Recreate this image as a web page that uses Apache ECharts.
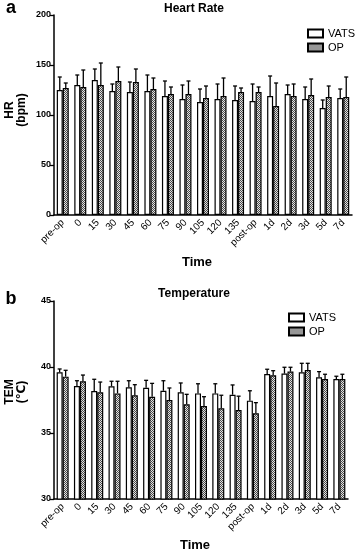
<!DOCTYPE html>
<html><head><meta charset="utf-8">
<script src="https://cdn.jsdelivr.net/npm/echarts@6/dist/echarts.min.js"></script>
<style>html,body{margin:0;padding:0;background:#fff}#c{width:359px;height:551px}</style>
</head><body><div id="c"></div>
<script>
const categories = ['pre-op','0','15','30','45','60','75','90','105','120','135','post-op','1d','2d','3d','5d','7d'];
const hrVATS = [125,130,135,124,123,124,119,116,113,116,115,114,119,121,116,107,117];
const hrVATSsd = [13,10,11,7,10,16,15,14,13,15,14,17,20,9,12,8,9];
const hrOP = [127,128,130,134,133,126,121,121,117,119,123,123,109,119,120,118,118];
const hrOPsd = [5,17,22,14,13,11,7,13,12,18,4,5,23,12,16,11,20];
const temVATS = [39.6,38.56,38.18,38.54,38.46,38.43,38.2,38.08,38.0,38.0,37.9,37.45,39.47,39.5,39.6,39.22,39.09];
const temVATSsd = [0.25,0.4,0.89,0.38,0.5,0.56,0.76,0.71,0.73,0.73,0.74,0.75,0.36,0.48,0.68,0.43,0.21];
const temOP = [39.27,38.92,38.08,38.0,37.86,37.75,37.5,37.17,37.05,36.87,36.74,36.5,39.37,39.65,39.77,39.09,39.09];
const temOPsd = [0.48,0.47,0.78,0.92,0.8,1.01,0.91,0.76,0.7,0.99,1.05,0.8,0.35,0.33,0.51,0.36,0.36];
const hrTicks = [0,50,100,150,200];
const temTicks = [30,35,40,45];

const FONT = '"Liberation Sans", Arial, "DejaVu Sans", sans-serif';
const cv = document.createElement('canvas'); cv.width = 2; cv.height = 2;
const cx = cv.getContext('2d');
cx.fillStyle = '#e4e4e4'; cx.fillRect(0,0,2,2);
cx.fillStyle = '#4a4a4a'; cx.fillRect(0,0,1,1); cx.fillRect(1,1,1,1);
const pattern = {image: cv, repeat: 'repeat'};

const BW = 6;
function errSeries(name, means, sds, idx, sign){
  return {
    type:'custom', name: name, xAxisIndex: idx, yAxisIndex: idx, z: 5, silent: true,
    data: means.map((m,i)=>[i, m, m + sds[i]]),
    renderItem: function(params, api){
      const p1 = api.coord([api.value(0), api.value(1)]);
      const p2 = api.coord([api.value(0), api.value(2)]);
      const x = p1[0] + sign*BW/2;
      return {type:'group', children:[
        {type:'line', shape:{x1:x,y1:p1[1],x2:x,y2:p2[1]}, style:{stroke:'#000',lineWidth:1.3}},
        {type:'line', shape:{x1:x-2,y1:p2[1],x2:x+2,y2:p2[1]}, style:{stroke:'#000',lineWidth:1.3}}
      ]};
    }
  };
}
function xAx(idx){
  return {type:'category', gridIndex: idx, data: categories,
    axisLine:{lineStyle:{color:'#000',width:1.5}},
    axisTick:{alignWithLabel:true,length:4,lineStyle:{color:'#000',width:1.3}},
    axisLabel:{rotate:45,color:'#000',fontSize:10,fontFamily:FONT,margin:6,interval:0}};
}
function yAx(idx,min,max,interval){
  return {type:'value', gridIndex: idx, min:min, max:max, interval:interval,
    axisLine:{show:true,lineStyle:{color:'#000',width:1.5}},
    axisTick:{show:true,length:4,lineStyle:{color:'#000',width:1.3}},
    splitLine:{show:false},
    axisLabel:{color:'#000',fontSize:9,fontWeight:'bold',fontFamily:FONT,margin:3}};
}
function bar(name, data, idx, color){
  return {type:'bar', name:name, xAxisIndex:idx, yAxisIndex:idx, data:data, barWidth:BW, barGap:'0%',
    itemStyle:{color:color, borderColor:'#000', borderWidth:1.2}};
}
function txt(x,y,t,size,weight,rot,lh){
  return {type:'text', x:x, y:y, rotation: rot||0,
    style:{text:t, fill:'#000', font: (weight||'normal')+' '+size+'px '+FONT, lineHeight: lh, textAlign:'center', textVerticalAlign:'middle'}};
}
const chart = echarts.init(document.getElementById('c'));
chart.setOption({
  animation:false,
  grid:[{left:54,right:7,top:15,height:200},{left:54,right:11,top:301,height:198}],
  xAxis:[xAx(0),xAx(1)],
  yAxis:[yAx(0,hrTicks[0],hrTicks[hrTicks.length-1],50), yAx(1,temTicks[0],temTicks[temTicks.length-1],5)],
  legend:[
    {orient:'vertical',left:302,top:23,itemWidth:15,itemHeight:8,itemGap:3,icon:'rect',data:['VATS','OP'],
     textStyle:{fontSize:11,color:'#000',fontFamily:FONT},selectedMode:false},
    {orient:'vertical',left:283,top:307,itemWidth:15,itemHeight:8,itemGap:3,icon:'rect',data:['VATS','OP'],
     textStyle:{fontSize:11,color:'#000',fontFamily:FONT},selectedMode:false}
  ],
  series:[
    bar('VATS',hrVATS,0,'#fff'), bar('OP',hrOP,0,pattern),
    errSeries('eb1',hrVATS,hrVATSsd,0,-1), errSeries('eb2',hrOP,hrOPsd,0,1),
    bar('VATS',temVATS,1,'#fff'), bar('OP',temOP,1,pattern),
    errSeries('eb3',temVATS,temVATSsd,1,-1), errSeries('eb4',temOP,temOPsd,1,1)
  ],
  graphic:[
    txt(11,8,'a',18,'bold'),
    txt(194,9,'Heart Rate',12,'bold'),
    txt(16,110,'HR\n(bpm)',12,'bold',Math.PI/2,12),
    txt(197,262,'Time',13,'bold'),
    txt(11,299,'b',18,'bold'),
    txt(194,294,'Temperature',12,'bold'),
    txt(16,392,'TEM\n(℃)',12,'bold',Math.PI/2,12),
    txt(195,545,'Time',13,'bold')
  ]
});
</script></body></html>
